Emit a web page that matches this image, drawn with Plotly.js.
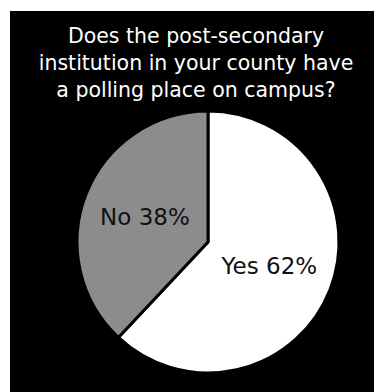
<!DOCTYPE html>
<html>
<head>
<meta charset="utf-8">
<script src="https://cdn.plot.ly/plotly-3.0.1.min.js"></script>
<style>
  html, body { margin: 0; padding: 0; background: #ffffff; width: 374px; height: 392px; overflow: hidden; }
  #chart { position: absolute; left: 10px; top: 11px; width: 364px; height: 381px; }
</style>
</head>
<body>
<div id="chart"></div>
<script>
const labels = ["Yes", "No"];
const values = [62, 38];
const sliceColors = ["#ffffff", "#8c8c8c"];
const titleLines = ["Does the post-secondary", "institution in your county have", "a polling place on campus?"];

const trace = {
  type: "pie",
  labels: labels,
  values: values,
  sort: false,
  direction: "clockwise",
  rotation: 0,
  marker: { colors: sliceColors, line: { color: "#000000", width: 3 } },
  texttemplate: "%{label} %{value}%",
  textposition: "inside",
  insidetextorientation: "horizontal",
  textfont: { family: "DejaVu Sans, sans-serif", size: 23, color: "#111111" },
  hoverinfo: "none",
  showlegend: false,
  domain: { x: [0.184, 0.904], y: [0.05, 0.7375] }
};

const layout = {
  width: 364,
  height: 381,
  margin: { l: 0, r: 0, t: 0, b: 0 },
  paper_bgcolor: "#000000",
  plot_bgcolor: "#000000",
  showlegend: false,
  title: {
    text: titleLines.join("<br>"),
    font: { family: "DejaVu Sans, sans-serif", size: 20.5, color: "#ffffff" },
    xref: "container", yref: "container",
    x: 0.511, xanchor: "center",
    y: 0.915, yanchor: "top"
  }
};

Plotly.newPlot("chart", [trace], layout, { staticPlot: true, displayModeBar: false });
</script>
</body>
</html>
